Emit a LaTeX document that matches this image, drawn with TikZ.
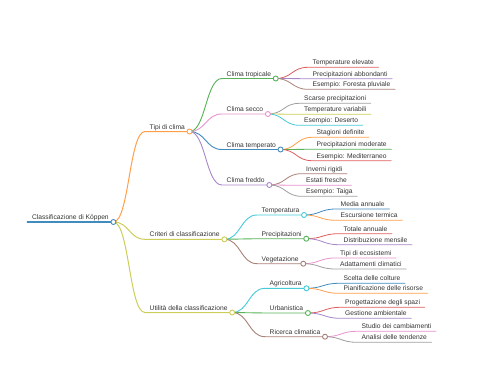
\documentclass[tikz,border=0pt]{standalone}
\usepackage{fontspec}
\setmainfont{Liberation Sans}
\usetikzlibrary{calc}
\definecolor{b0}{HTML}{1F77B4}
\definecolor{b1}{HTML}{FF7F0E}
\definecolor{b2}{HTML}{2CA02C}
\definecolor{b3}{HTML}{D62728}
\definecolor{b4}{HTML}{9467BD}
\definecolor{b5}{HTML}{8C564B}
\definecolor{b6}{HTML}{E377C2}
\definecolor{b7}{HTML}{7F7F7F}
\definecolor{b8}{HTML}{BCBD22}
\definecolor{b9}{HTML}{17BECF}
\colorlet{c0}{b0!85!white}
\colorlet{c1}{b1!75!white}
\colorlet{c2}{b2!80!white}
\colorlet{c3}{b3!75!white}
\colorlet{c4}{b4!80!white}
\colorlet{c5}{b5!75!white}
\colorlet{c6}{b6!80!white}
\colorlet{c7}{b7!75!white}
\colorlet{c8}{b8!75!white}
\colorlet{c9}{b9!80!white}
\definecolor{txt}{HTML}{333333}
\begin{document}
\begin{tikzpicture}[x=1pt,y=1pt,
  lbl/.style={font=\fontsize{6.7}{8}\selectfont, text=txt, inner xsep=4.5pt, inner ysep=0pt, text height=5pt, text depth=2.3pt, anchor=south west},
  link/.style={to path={let \p1=(\tikztostart), \p2=(\tikztotarget) in .. controls ({(\x1+\x2)/2},\y1) and ({(\x1+\x2)/2},\y2) .. (\tikztotarget)}},
  d0/.style={line width=1.4pt, line cap=round},
  d1/.style={line width=1.0pt, line cap=round},
  d2/.style={line width=0.9pt, line cap=round},
  d3/.style={line width=0.8pt, line cap=round},
  dot/.style={draw=#1, fill=white, line width=0.9pt}
]
\useasboundingbox (0,0) rectangle (480,384);
% nodes
\node[lbl] (root) at (27.3,162) {Classificazione di Köppen};
\node[lbl] (tipi) at (145,252.5) {Tipi di clima};
\node[lbl] (crit) at (145,144.7) {Criteri di classificazione};
\node[lbl] (util) at (145,71.5) {Utilità della classificazione};
\node[lbl] (ctrop) at (222,305.5) {Clima tropicale};
\node[lbl] (csec) at (222,270) {Clima secco};
\node[lbl] (ctemp) at (222,234.5) {Clima temperato};
\node[lbl] (cfred) at (222,199) {Clima freddo};
\node[lbl] (tel) at (308,316.7) {Temperature elevate};
\node[lbl] (pab) at (308,305.3) {Precipitazioni abbondanti};
\node[lbl] (efp) at (308,294.7) {Esempio: Foresta pluviale};
\node[lbl] (scp) at (299.5,280.7) {Scarse precipitazioni};
\node[lbl] (tva) at (299.5,269.7) {Temperature variabili};
\node[lbl] (ede) at (299.5,258.7) {Esempio: Deserto};
\node[lbl] (sde) at (312,246.7) {Stagioni definite};
\node[lbl] (pmo) at (312,234.7) {Precipitazioni moderate};
\node[lbl] (eme) at (312,223.3) {Esempio: Mediterraneo};
\node[lbl] (iri) at (301.5,210.3) {Inverni rigidi};
\node[lbl] (efr) at (301.5,198.7) {Estati fresche};
\node[lbl] (eta) at (301.5,187.7) {Esempio: Taiga};
\node[lbl] (temp) at (257,169) {Temperatura};
\node[lbl] (man) at (336,175) {Media annuale};
\node[lbl] (este) at (336,163.7) {Escursione termica};
\node[lbl] (prec) at (257,145.3) {Precipitazioni};
\node[lbl] (tan) at (339,150.3) {Totale annuale};
\node[lbl] (dme) at (339,139.3) {Distribuzione mensile};
\node[lbl] (veg) at (257,120.3) {Vegetazione};
\node[lbl] (tec) at (335.5,126) {Tipi di ecosistemi};
\node[lbl] (acl) at (335.5,115) {Adattamenti climatici};
\node[lbl] (agri) at (265,95.7) {Agricoltura};
\node[lbl] (sco) at (339,100.7) {Scelta delle colture};
\node[lbl] (pri) at (339,90.7) {Pianificazione delle risorse};
\node[lbl] (urb) at (265,71) {Urbanistica};
\node[lbl] (pds) at (340.5,76.7) {Progettazione degli spazi};
\node[lbl] (gam) at (340.5,65.7) {Gestione ambientale};
\node[lbl] (ric) at (265,47.3) {Ricerca climatica};
\node[lbl] (sca) at (357,52.7) {Studio dei cambiamenti};
\node[lbl] (adt) at (357,41.7) {Analisi delle tendenze};
% root underline
\draw[d0,c0] (root.south west) -- (root.south east);
% depth 1
\draw[d1,c1] (root.south east) to[link] (tipi.south west) -- (tipi.south east);
\draw[d1,c8] (root.south east) to[link] (crit.south west) -- (crit.south east);
\draw[d1,c8] (root.south east) to[link] (util.south west) -- (util.south east);
% depth 2
\draw[d2,c2] (tipi.south east) to[link] (ctrop.south west) -- (ctrop.south east);
\draw[d2,c6] (tipi.south east) to[link] (csec.south west) -- (csec.south east);
\draw[d2,c0] (tipi.south east) to[link] (ctemp.south west) -- (ctemp.south east);
\draw[d2,c4] (tipi.south east) to[link] (cfred.south west) -- (cfred.south east);
\draw[d2,c9] (crit.south east) to[link] (temp.south west) -- (temp.south east);
\draw[d2,c2] (crit.south east) to[link] (prec.south west) -- (prec.south east);
\draw[d2,c5] (crit.south east) to[link] (veg.south west) -- (veg.south east);
\draw[d2,c9] (util.south east) to[link] (agri.south west) -- (agri.south east);
\draw[d2,c2] (util.south east) to[link] (urb.south west) -- (urb.south east);
\draw[d2,c5] (util.south east) to[link] (ric.south west) -- (ric.south east);
% depth 3
\draw[d3,c3] (ctrop.south east) to[link] (tel.south west) -- (tel.south east);
\draw[d3,c4] (ctrop.south east) to[link] (pab.south west) -- (pab.south east);
\draw[d3,c5] (ctrop.south east) to[link] (efp.south west) -- (efp.south east);
\draw[d3,c7] (csec.south east) to[link] (scp.south west) -- (scp.south east);
\draw[d3,c8] (csec.south east) to[link] (tva.south west) -- (tva.south east);
\draw[d3,c9] (csec.south east) to[link] (ede.south west) -- (ede.south east);
\draw[d3,c1] (ctemp.south east) to[link] (sde.south west) -- (sde.south east);
\draw[d3,c2] (ctemp.south east) to[link] (pmo.south west) -- (pmo.south east);
\draw[d3,c3] (ctemp.south east) to[link] (eme.south west) -- (eme.south east);
\draw[d3,c5] (cfred.south east) to[link] (iri.south west) -- (iri.south east);
\draw[d3,c6] (cfred.south east) to[link] (efr.south west) -- (efr.south east);
\draw[d3,c7] (cfred.south east) to[link] (eta.south west) -- (eta.south east);
\draw[d3,c0] (temp.south east) to[link] (man.south west) -- (man.south east);
\draw[d3,c1] (temp.south east) to[link] (este.south west) -- (este.south east);
\draw[d3,c3] (prec.south east) to[link] (tan.south west) -- (tan.south east);
\draw[d3,c4] (prec.south east) to[link] (dme.south west) -- (dme.south east);
\draw[d3,c6] (veg.south east) to[link] (tec.south west) -- (tec.south east);
\draw[d3,c7] (veg.south east) to[link] (acl.south west) -- (acl.south east);
\draw[d3,c0] (agri.south east) to[link] (sco.south west) -- (sco.south east);
\draw[d3,c1] (agri.south east) to[link] (pri.south west) -- (pri.south east);
\draw[d3,c3] (urb.south east) to[link] (pds.south west) -- (pds.south east);
\draw[d3,c4] (urb.south east) to[link] (gam.south west) -- (gam.south east);
\draw[d3,c6] (ric.south east) to[link] (sca.south west) -- (sca.south east);
\draw[d3,c7] (ric.south east) to[link] (adt.south west) -- (adt.south east);
% circles
\draw[dot=c0] (root.south east) circle[radius=2.5pt];
\draw[dot=c1] (tipi.south east) circle[radius=2.5pt];
\draw[dot=c8] (crit.south east) circle[radius=2.5pt];
\draw[dot=c8] (util.south east) circle[radius=2.5pt];
\draw[dot=c2] (ctrop.south east) circle[radius=2.5pt];
\draw[dot=c6] (csec.south east) circle[radius=2.5pt];
\draw[dot=c0] (ctemp.south east) circle[radius=2.5pt];
\draw[dot=c4] (cfred.south east) circle[radius=2.5pt];
\draw[dot=c9] (temp.south east) circle[radius=2.5pt];
\draw[dot=c2] (prec.south east) circle[radius=2.5pt];
\draw[dot=c5] (veg.south east) circle[radius=2.5pt];
\draw[dot=c9] (agri.south east) circle[radius=2.5pt];
\draw[dot=c2] (urb.south east) circle[radius=2.5pt];
\draw[dot=c5] (ric.south east) circle[radius=2.5pt];
\end{tikzpicture}
\end{document}
